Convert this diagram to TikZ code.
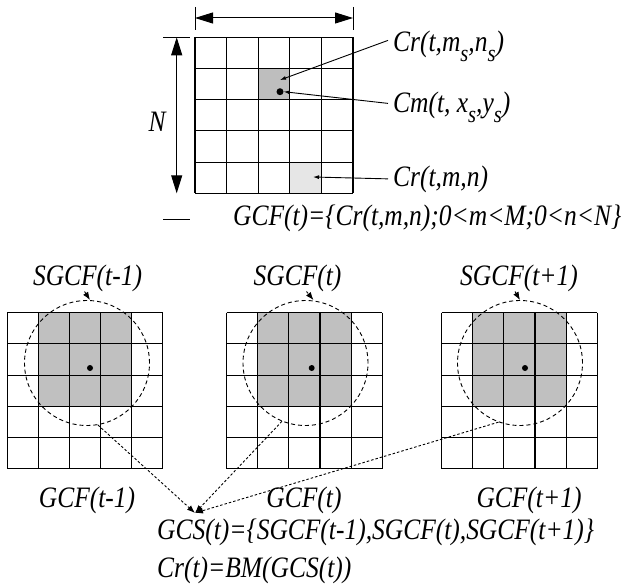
\documentclass[tikz,border=0pt]{standalone}
\usepackage{fontspec}
\setmainfont{Liberation Serif}
\usetikzlibrary{arrows.meta}
\newcommand{\lowsub}[1]{\raisebox{-8pt}{\fontsize{21}{21}\selectfont #1}}
\newcommand{\tallt}[1]{\scalebox{0.98}[1.14]{#1}}
\definecolor{shadecol}{RGB}{192,192,192}
\definecolor{darkcell}{RGB}{190,190,190}
\definecolor{lightcell}{RGB}{230,230,230}
\begin{document}
\begin{tikzpicture}[x=1pt,y=-1pt,
  lbl/.style={font=\fontsize{26}{26}\selectfont\itshape, inner sep=0pt},
  gridline/.style={line width=1.1pt, black},
  bigarrow/.style={line width=1pt, {Triangle[length=18pt,width=11pt]}-{Triangle[length=18pt,width=11pt]}},
  tick/.style={line width=1pt},
  ptr/.style={line width=0.9pt, -{Latex[length=6pt,width=4pt]}},
  dotarrow/.style={line width=0.9pt, dash pattern=on 2.5pt off 2pt, -{Latex[length=8pt,width=6pt]}},
  ring/.style={circle, draw, line width=0.9pt, dash pattern=on 4pt off 3pt, minimum size=125pt, inner sep=0pt},
  dotnode/.style={circle, fill=black, inner sep=0pt, minimum size=6pt}
]
\useasboundingbox (0,0) rectangle (634,585);

% ---------- top grid ----------
\fill[darkcell] (258.3,68.5) rectangle (289.9,99.7);
\fill[lightcell] (289.9,162.1) rectangle (321.5,193.3);
\foreach \i in {0,...,5} {
  \draw[gridline] ({195+31.6*\i},37.3) -- ({195+31.6*\i},193.3);
  \draw[gridline] (195,{37.3+31.2*\i}) -- (353,{37.3+31.2*\i});
}

% dimension arrows
\coordinate (hl) at (195,18);
\coordinate (hr) at (353,18);
\draw[bigarrow] (hl) -- (hr);
\coordinate (tl1) at (195,7); \coordinate (tl2) at (195,30);
\coordinate (tr1) at (353,7); \coordinate (tr2) at (353,30);
\draw[tick] (tl1) -- (tl2);
\draw[tick] (tr1) -- (tr2);
\coordinate (vt) at (176.7,37.3);
\coordinate (vb) at (176.7,193.3);
\draw[bigarrow] (vt) -- (vb);
\coordinate (tt1) at (163,37.3); \coordinate (tt2) at (190,37.3);
\coordinate (tb1) at (163,220); \coordinate (tb2) at (190,220);
\draw[tick] (tt1) -- (tt2);
\draw[tick] (tb1) -- (tb2);
\node[lbl] (Nlbl) at (157,122) {\tallt{N}};

% dot and pointers
\node[dotnode, minimum size=7pt] (cm) at (280,91.7) {};
\coordinate (crcell) at (280,80);
\coordinate (crmncell) at (313,177);
\node[lbl, anchor=base west] (crs) at (393,52) {\tallt{Cr(t,m\lowsub{s},n\lowsub{s})}};
\node[lbl, anchor=base west] (cms) at (393,113) {\tallt{Cm(t, x\lowsub{s},y\lowsub{s})}};
\node[lbl, anchor=base west] (crmn) at (393,187) {\tallt{Cr(t,m,n)}};
\draw[ptr] ([xshift=-5pt,yshift=6pt]crs.west) -- (crcell);
\draw[ptr] ([xshift=-5pt,yshift=4pt]cms.west) -- (cm.east);
\draw[ptr] ([xshift=-5pt,yshift=1pt]crmn.west) -- (crmncell);

\node[lbl, anchor=base west] (gcfeq) at (233,226) {\tallt{GCF(t)=\{Cr(t,m,n);0<m<M;0<n<N\}}};

% ---------- bottom grids ----------
\foreach \gx in {7.3,226.7,441.7} {
  \fill[shadecol] ({\gx+31.1},312.7) rectangle ({\gx+4*31.1},{312.7+3*31.2});
  \foreach \i in {0,...,5} {
    \draw[gridline] ({\gx+31.1*\i},312.7) -- ({\gx+31.1*\i},468.7);
    \draw[gridline] (\gx,{312.7+31.2*\i}) -- ({\gx+155.5},{312.7+31.2*\i});
  }
}

\node[ring] (c1) at (87,363) {};
\node[ring] (c2) at (305.5,363) {};
\node[ring] (c3) at (520,363) {};
\node[dotnode] (d1) at (90,368) {};
\node[dotnode] (d2) at (311.7,368) {};
\node[dotnode] (d3) at (525,368) {};

\node[lbl, anchor=base] (s1) at (87.5,285) {\tallt{SGCF(t-1)}};
\node[lbl, anchor=base] (s2) at (297.5,285) {\tallt{SGCF(t)}};
\node[lbl, anchor=base] (s3) at (519,285) {\tallt{SGCF(t+1)}};
\draw[dotarrow] ([xshift=-3pt]s1.south) -- ([xshift=3pt]c1.north);
\draw[dotarrow] ([xshift=9pt]s2.south) -- ([xshift=8pt]c2.north);
\draw[dotarrow] ([xshift=-4pt]s3.south) -- ([xshift=0pt]c3.north);

\node[lbl, anchor=base] (g1) at (87,507) {\tallt{GCF(t-1)}};
\node[lbl, anchor=base] (g2) at (304,507) {\tallt{GCF(t)}};
\node[lbl, anchor=base] (g3) at (529,507) {\tallt{GCF(t+1)}};

\coordinate (gcs) at (195,513);
\draw[dotarrow] (c1.-80) -- (gcs);
\draw[dotarrow] (c2.-112) -- (gcs);
\draw[dotarrow] (c3.-110) -- (gcs);

\node[lbl, anchor=base west] (gcseq) at (157,539) {\tallt{GCS(t)=\{SGCF(t-1),SGCF(t),SGCF(t+1)\}}};
\node[lbl, anchor=base west] (creq) at (157,577) {\tallt{Cr(t)=BM(GCS(t))}};
\end{tikzpicture}
\end{document}
